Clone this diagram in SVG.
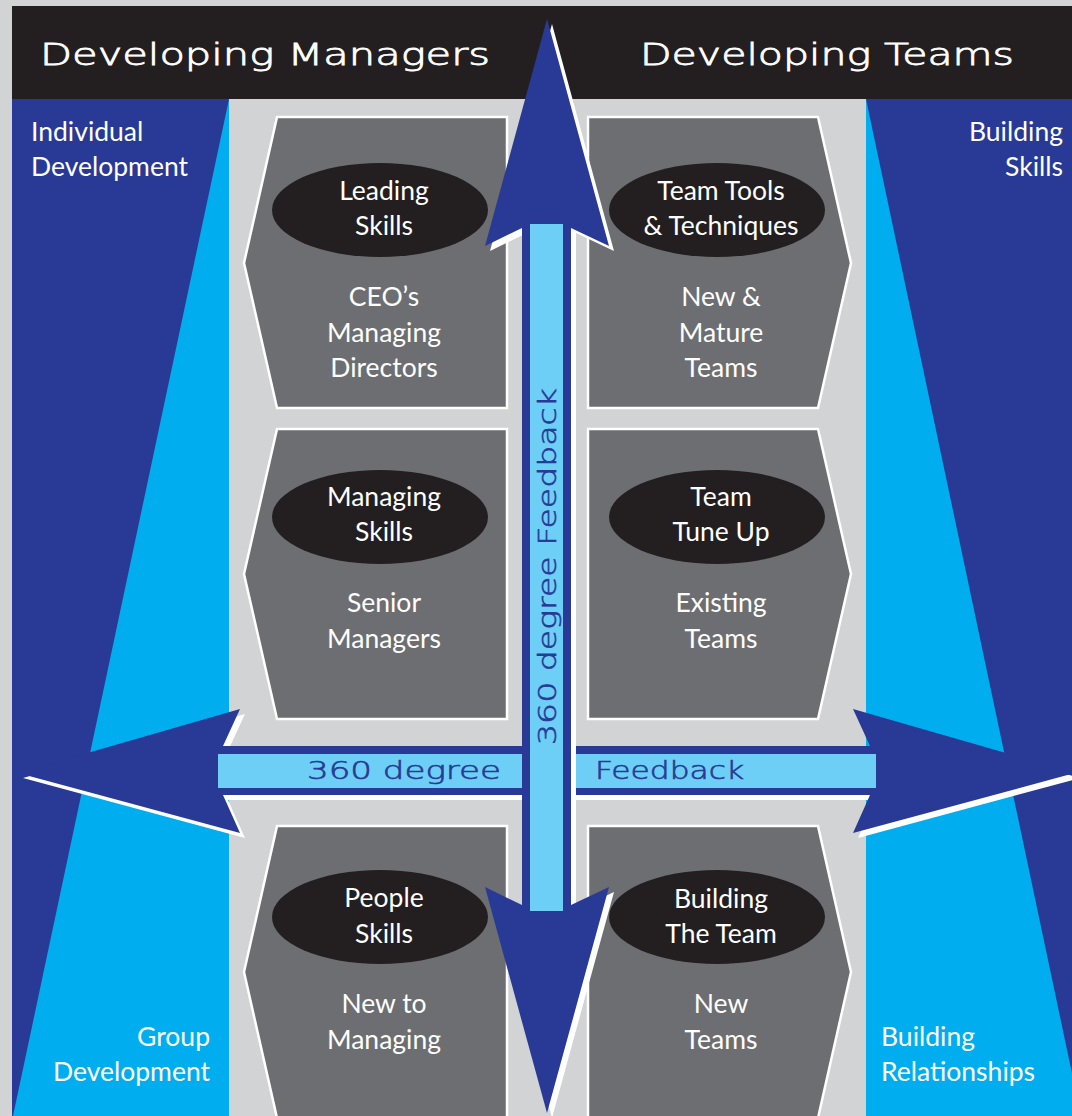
<svg xmlns="http://www.w3.org/2000/svg" width="1072" height="1116" viewBox="0 0 1072 1116">
<defs>
<style>
.bg{fill:#d1d3d4}
.dk{fill:#283a96}
.lb{fill:#00aeef}
.pb{fill:#6dcff6}
.hex{fill:#6d6e71;stroke:#ffffff;stroke-width:2.5}
.ell{fill:#231f20}
.lbl{font-family:Lato,"Open Sans",sans-serif;font-size:26.5px;fill:#ffffff;text-anchor:middle}
.side{font-family:Lato,"Open Sans",sans-serif;font-size:26.5px;fill:#ffffff}
.hdr{font-family:"DejaVu Sans","DejaVu Sans ExtraLight",sans-serif;font-weight:200;font-size:30px;fill:#ffffff;stroke:#ffffff;stroke-width:0.8}
.fb{font-family:"DejaVu Sans","DejaVu Sans ExtraLight",sans-serif;font-weight:200;font-size:24px;fill:#283a96;stroke:#283a96;stroke-width:0.6}
.sh{fill:#ffffff}
</style>
</defs>
<rect class="bg" x="0" y="0" width="1072" height="1116"/>
<g id="header">
<rect x="12" y="6" width="1060" height="93" fill="#231f20"/>
<text class="hdr" x="40" y="65" textLength="450" lengthAdjust="spacingAndGlyphs">Developing Managers</text>
<text class="hdr" x="640" y="65" textLength="374" lengthAdjust="spacingAndGlyphs">Developing Teams</text>
</g>
<g id="left-panel">
<rect class="dk" x="12" y="99" width="217" height="1017"/>
<polygon class="lb" points="229,99 229,1116 13,1116"/>
<text class="side" x="31" y="141">Individual</text>
<text class="side" x="31" y="176">Development</text>
<text class="side" x="210" y="1046" text-anchor="end">Group</text>
<text class="side" x="210" y="1081" text-anchor="end">Development</text>
</g>
<g id="right-panel">
<rect class="dk" x="866" y="99" width="206" height="1017"/>
<polygon class="lb" points="866,99 1081,1116 866,1116"/>
<text class="side" x="1063" y="141" text-anchor="end">Building</text>
<text class="side" x="1063" y="176" text-anchor="end">Skills</text>
<text class="side" x="881" y="1046">Building</text>
<text class="side" x="881" y="1081">Relationships</text>
</g>
<g id="node-leading">
<polygon class="hex" points="277,117 507,117 507,408 277,408 244,263"/>
<ellipse class="ell" cx="380" cy="210" rx="108" ry="47"/>
<text class="lbl" x="384" y="200">Leading</text>
<text class="lbl" x="384" y="235">Skills</text>
<text class="lbl" x="384" y="306">CEO’s</text>
<text class="lbl" x="384" y="342">Managing</text>
<text class="lbl" x="384" y="377">Directors</text>
</g>
<g id="node-teamtools">
<polygon class="hex" points="588,117 818,117 851,263 818,408 588,408"/>
<ellipse class="ell" cx="717" cy="210" rx="108" ry="47"/>
<text class="lbl" x="721" y="200">Team Tools</text>
<text class="lbl" x="721" y="235">&amp; Techniques</text>
<text class="lbl" x="721" y="306">New &amp;</text>
<text class="lbl" x="721" y="342">Mature</text>
<text class="lbl" x="721" y="377">Teams</text>
</g>
<g id="node-managing">
<polygon class="hex" points="277,429 507,429 507,719 277,719 244,574"/>
<ellipse class="ell" cx="380" cy="517" rx="108" ry="47"/>
<text class="lbl" x="384" y="506">Managing</text>
<text class="lbl" x="384" y="541">Skills</text>
<text class="lbl" x="384" y="612">Senior</text>
<text class="lbl" x="384" y="648">Managers</text>
</g>
<g id="node-tuneup">
<polygon class="hex" points="588,429 818,429 851,574 818,719 588,719"/>
<ellipse class="ell" cx="717" cy="517" rx="108" ry="47"/>
<text class="lbl" x="721" y="506">Team</text>
<text class="lbl" x="721" y="541">Tune Up</text>
<text class="lbl" x="721" y="612">Existing</text>
<text class="lbl" x="721" y="648">Teams</text>
</g>
<g id="node-people">
<polygon class="hex" points="277,826 507,826 507,1118 277,1118 244,972"/>
<ellipse class="ell" cx="380" cy="917" rx="108" ry="47"/>
<text class="lbl" x="384" y="907">People</text>
<text class="lbl" x="384" y="943">Skills</text>
<text class="lbl" x="384" y="1013">New to</text>
<text class="lbl" x="384" y="1049">Managing</text>
</g>
<g id="node-building">
<polygon class="hex" points="588,826 818,826 851,972 818,1118 588,1118"/>
<ellipse class="ell" cx="717" cy="917" rx="108" ry="47"/>
<text class="lbl" x="721" y="908">Building</text>
<text class="lbl" x="721" y="943">The Team</text>
<text class="lbl" x="721" y="1013">New</text>
<text class="lbl" x="721" y="1049">Teams</text>
</g>
<g id="connectors">
<g id="horizontal-arrow">
<polygon class="sh" transform="translate(5,5)" points="18,773 240,709 223,746 870,746 853,709 1075,773 853,833 870,795 223,795 240,833"/>
<polygon class="dk" points="18,773 240,709 223,746 870,746 853,709 1075,773 853,833 870,795 223,795 240,833"/>
<rect class="pb" x="218" y="754" width="658" height="34"/>
<text class="fb" x="307" y="779" textLength="194" lengthAdjust="spacingAndGlyphs">360 degree</text>
<text class="fb" x="595" y="779" textLength="149" lengthAdjust="spacingAndGlyphs">Feedback</text>
</g>
<g id="vertical-arrow">
<polygon class="sh" transform="translate(5,5)" points="547,19 609,246 571,228 571,905 609,887 547,1113 485,887 522,905 522,228 485,246"/>
<polygon class="dk" points="547,19 609,246 571,228 571,905 609,887 547,1113 485,887 522,905 522,228 485,246"/>
<rect class="pb" x="530" y="224" width="33" height="687"/>
<text class="fb" transform="translate(556,745) rotate(-90)" x="0" y="0" textLength="357" lengthAdjust="spacingAndGlyphs">360 degree Feedback</text>
</g>
</g>
</svg>
